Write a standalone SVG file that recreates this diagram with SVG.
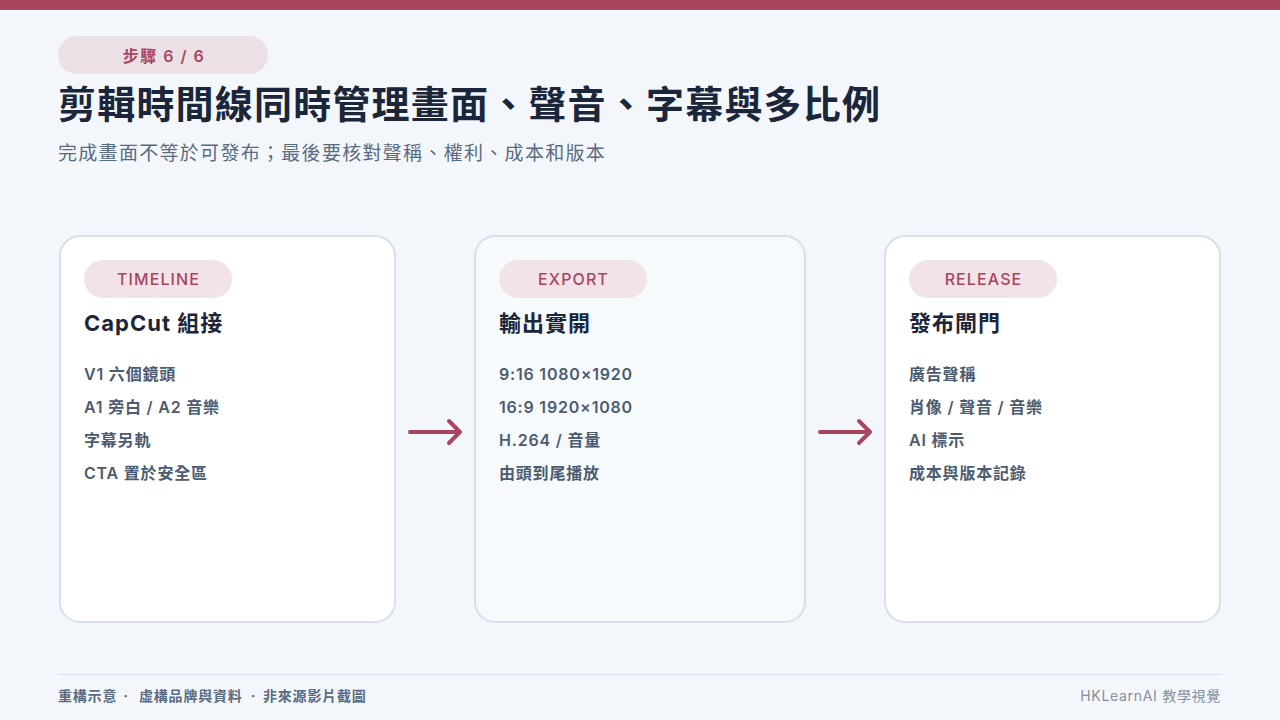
<svg xmlns="http://www.w3.org/2000/svg" width="1280" height="720" viewBox="0 0 1280 720">
<defs>
<style>
text{font-family:Inter,"Noto Sans CJK TC","Noto Sans",sans-serif;}
.card{fill:#ffffff;stroke:#d6dfea;stroke-width:2;}
.pill{fill:#f2e3e9;}
.pilltxt{font-size:16px;font-weight:500;fill:#a8465f;text-anchor:middle;letter-spacing:1.1px;}
.head{font-size:22px;font-weight:700;fill:#1b263b;letter-spacing:1px;}
.item{font-size:16px;font-weight:600;fill:#4b5b72;letter-spacing:0.8px;}
.conn{stroke:#a8465f;stroke-width:4;fill:none;stroke-linecap:round;stroke-linejoin:round;}
.foot{font-size:14px;font-weight:700;fill:#5a6a80;letter-spacing:0.8px;}
</style>
</defs>
<rect x="0" y="0" width="1280" height="720" fill="#f3f7fb"/>
<rect x="0" y="0" width="1280" height="10" fill="#a8465f"/>
<g id="header">
<rect x="58" y="36" width="210" height="38" rx="19" fill="#ece0e7"/>
<text x="164" y="62" class="pilltxt" style="font-weight:600;letter-spacing:1.5px">步驟 6 / 6</text>
<text x="58" y="118" font-size="38" font-weight="700" fill="#1b263b" letter-spacing="1.2">剪輯時間線同時管理畫面、聲音、字幕與多比例</text>
<text x="58" y="160" font-size="19" fill="#5a6a80" letter-spacing="1.3">完成畫面不等於可發布；最後要核對聲稱、權利、成本和版本</text>
</g>
<g id="node-timeline">
<rect class="card" x="60" y="236" width="335" height="386" rx="20"/>
<rect class="pill" x="84" y="260" width="148" height="38" rx="19"/>
<text class="pilltxt" x="158.5" y="285">TIMELINE</text>
<text class="head" x="84" y="331">CapCut 組接</text>
<text class="item" x="84" y="380">V1 六個鏡頭</text>
<text class="item" x="84" y="413">A1 旁白 / A2 音樂</text>
<text class="item" x="84" y="446">字幕另軌</text>
<text class="item" x="84" y="479">CTA 置於安全區</text>
</g>
<g id="node-export">
<rect class="card" x="475" y="236" width="330" height="386" rx="20" style="fill:#f7fafd"/>
<rect class="pill" x="499" y="260" width="148" height="38" rx="19"/>
<text class="pilltxt" x="573.5" y="285">EXPORT</text>
<text class="head" x="499" y="331">輸出實開</text>
<text class="item" x="499" y="380">9:16 1080×1920</text>
<text class="item" x="499" y="413">16:9 1920×1080</text>
<text class="item" x="499" y="446">H.264 / 音量</text>
<text class="item" x="499" y="479">由頭到尾播放</text>
</g>
<g id="node-release">
<rect class="card" x="885" y="236" width="335" height="386" rx="20"/>
<rect class="pill" x="909" y="260" width="148" height="38" rx="19"/>
<text class="pilltxt" x="983.5" y="285">RELEASE</text>
<text class="head" x="909" y="331">發布閘門</text>
<text class="item" x="909" y="380">廣告聲稱</text>
<text class="item" x="909" y="413">肖像 / 聲音 / 音樂</text>
<text class="item" x="909" y="446">AI 標示</text>
<text class="item" x="909" y="479">成本與版本記錄</text>
</g>
<g id="connectors">
<path class="conn" d="M410 432 H460 M449 421 L460 432 L449 443"/>
<path class="conn" d="M820 432 H870 M859 421 L870 432 L859 443"/>
</g>
<g id="footer">
<line x1="58" y1="674.5" x2="1222" y2="674.5" stroke="#d6dfea" stroke-width="1"/>
<text class="foot" x="58" y="701">重構示意</text>
<text class="foot" x="126" y="701" text-anchor="middle" letter-spacing="0">·</text>
<text class="foot" x="139" y="701">虛構品牌與資料</text>
<text class="foot" x="253.5" y="701" text-anchor="middle" letter-spacing="0">·</text>
<text class="foot" x="263" y="701">非來源影片截圖</text>
<text x="1221" y="701" font-size="14" fill="#8590a0" text-anchor="end" letter-spacing="0.7">HKLearnAI 教學視覺</text>
</g>
</svg>
